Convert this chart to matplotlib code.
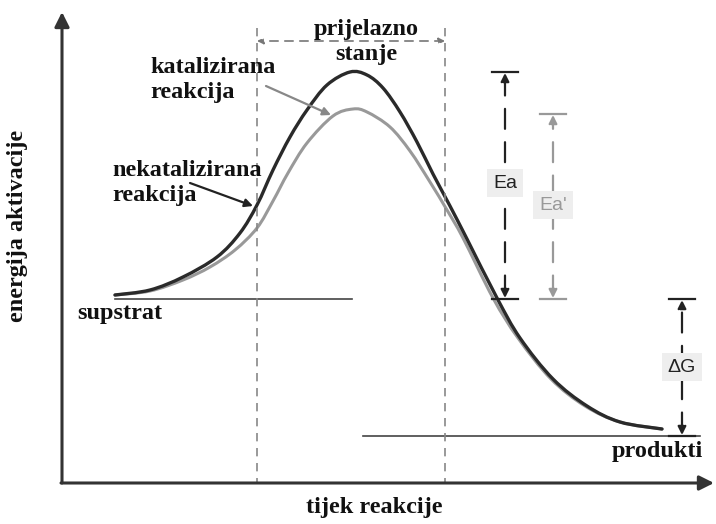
import numpy as np
import matplotlib.pyplot as plt
from matplotlib.path import Path
from matplotlib.patches import PathPatch

# curve points (x = reaction progress, y = height on page, top = 0)
nekat_x = [115, 150, 183, 217, 240, 257, 273, 290, 307, 327, 350, 367, 383, 400, 417, 433, 450, 467, 497, 520, 553, 587, 620, 662]
nekat_y = [295, 290, 277, 257, 233, 205, 170, 137, 110, 85, 72, 75, 88, 112, 142, 174, 206, 239, 298, 338, 379, 406, 422, 429]
kat_x = [115, 150, 183, 210, 235, 257, 273, 288, 307, 333, 353, 367, 390, 410, 430, 447, 463, 493, 518, 551, 585, 620, 662]
kat_y = [295, 291, 280, 267, 250, 228, 201, 173, 143, 116, 109, 112, 127, 151, 182, 210, 238, 298, 338, 379, 406, 422, 429]

supstrat_level = 299
produkti_level = 436
ea_top = 72
ea2_top = 114

fig = plt.figure(figsize=(7.16, 5.24), dpi=100)
ax = fig.add_axes([0, 0, 1, 1])
ax.set_xlim(0, 716)
ax.set_ylim(524, 0)
ax.axis('off')


def smooth_path(xs, ys):
    # Catmull-Rom through the read points, drawn as cubic Bezier segments
    p = np.column_stack([xs, ys]).astype(float)
    verts = [p[0]]
    codes = [Path.MOVETO]
    for i in range(len(p) - 1):
        p0 = p[i - 1] if i > 0 else p[i]
        p1, p2 = p[i], p[i + 1]
        p3 = p[i + 2] if i + 2 < len(p) else p[i + 1]
        verts += [p1 + (p2 - p0) / 6, p2 - (p3 - p1) / 6, p2]
        codes += [Path.CURVE4] * 3
    return Path(verts, codes)


# axes arrows
ax.annotate('', xy=(62, 12), xytext=(62, 483),
            arrowprops=dict(arrowstyle='-|>', color='#333333', lw=2.2, mutation_scale=22, shrinkA=0, shrinkB=0))
ax.annotate('', xy=(714, 483), xytext=(61, 483),
            arrowprops=dict(arrowstyle='-|>', color='#333333', lw=2.2, mutation_scale=22, shrinkA=0, shrinkB=0))

# energy levels
ax.plot([115, 352], [supstrat_level, supstrat_level], color='#444444', lw=1.2)
ax.plot([363, 700], [produkti_level, produkti_level], color='#444444', lw=1.2)

# transition state region
for xv in [257, 445]:
    ax.plot([xv, xv], [28, 482], color='#888888', lw=1.2, ls=(0, (5, 4)))
ax.annotate('', xy=(257, 41), xytext=(445, 41),
            arrowprops=dict(arrowstyle='<|-|>', color='#777777', lw=1.2, ls=(0, (5, 4)),
                            mutation_scale=9, shrinkA=0, shrinkB=0))

# curves
ax.add_patch(PathPatch(smooth_path(kat_x, kat_y), fc='none', ec='#999999', lw=2.2, capstyle='round'))
ax.add_patch(PathPatch(smooth_path(nekat_x, nekat_y), fc='none', ec='#2a2a2a', lw=2.4, capstyle='round'))


def dim_arrow(x, top, bottom, color, label, ly):
    ax.plot([x - 13, x + 13], [top, top], color=color, lw=1.6)
    ax.plot([x - 13, x + 13], [bottom, bottom], color=color, lw=1.6)
    ax.annotate('', xy=(x, top + 1), xytext=(x, bottom - 1),
                arrowprops=dict(arrowstyle='<|-|>', color=color, lw=1.6, ls=(0, (9, 6)),
                                mutation_scale=12, shrinkA=0, shrinkB=0))
    ax.text(x, ly, label, ha='center', va='center', fontsize=14, color=color,
            family='Liberation Sans',
            bbox=dict(boxstyle='square,pad=0.3', fc='#eeeeee', ec='none'))


dim_arrow(505, ea_top, supstrat_level, '#222222', 'Ea', 183)
dim_arrow(553, ea2_top, supstrat_level, '#999999', "Ea'", 205)
dim_arrow(682, supstrat_level, produkti_level, '#222222', '\u0394G', 367)

serif = dict(family='Liberation Serif', weight='bold', fontsize=17.5, color='#111111')
ax.text(366, 42, 'prijelazno\nstanje', ha='center', va='center', linespacing=1.3, **serif)
ax.text(150, 80, 'katalizirana\nreakcija', ha='left', va='center', linespacing=1.2, **serif)
ax.text(112, 183, 'nekatalizirana\nreakcija', ha='left', va='center', linespacing=1.2, **serif)
ax.text(77, 313, 'supstrat', ha='left', va='center', **serif)
ax.text(612, 452, 'produkti', ha='left', va='center', **serif)
ax.text(374, 508, 'tijek reakcije', ha='center', va='center', **serif)
ax.text(18, 226, 'energija aktivacije', ha='center', va='center', rotation=90, **serif)

# pointer arrows
ax.annotate('', xy=(331, 115), xytext=(266, 86),
            arrowprops=dict(arrowstyle='-|>', color='#888888', lw=1.6, mutation_scale=12, shrinkA=0, shrinkB=0))
ax.annotate('', xy=(253, 206), xytext=(190, 183),
            arrowprops=dict(arrowstyle='-|>', color='#222222', lw=1.6, mutation_scale=12, shrinkA=0, shrinkB=0))

fig.savefig('out.png', dpi=100)
